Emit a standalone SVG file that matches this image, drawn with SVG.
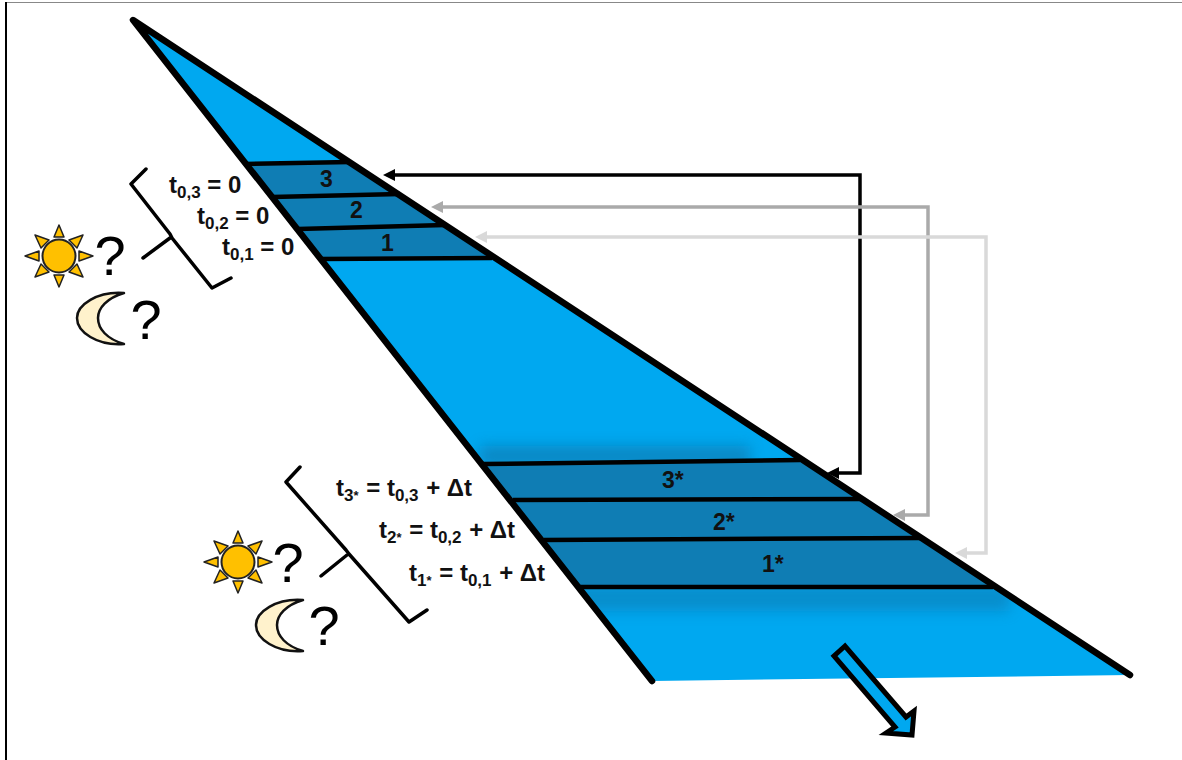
<svg xmlns="http://www.w3.org/2000/svg" width="1182" height="760" viewBox="0 0 1182 760">
<style>
.edge{fill:none;stroke:#000;stroke-width:6.5;stroke-linecap:round;stroke-linejoin:round}
.sep{fill:none;stroke:#000;stroke-width:4.5}
.brace{fill:none;stroke:#000;stroke-width:3.5;stroke-linejoin:round;stroke-linecap:round}
.lbl{font-family:"Liberation Sans",Arial,sans-serif;font-weight:700;font-size:24px;fill:#111}
.num{font-family:"Liberation Sans",Arial,sans-serif;font-weight:700;font-size:23px;fill:#111}
.q{font-family:"Liberation Sans",Arial,sans-serif;font-size:56px;fill:#000;text-anchor:middle}
.sub{font-size:17px}
.sub2{font-size:13px}
.ray{fill:#ffc000;stroke:#222;stroke-width:1.5;stroke-linejoin:round}
.disc{fill:#ffc000;stroke:#222;stroke-width:2}
.moon{fill:#fff2cc;stroke:#111;stroke-width:2.5;stroke-linejoin:round}
.conn{fill:none;stroke-width:3.5}
</style>
<defs>
<filter id="blur" x="-10%" y="-100%" width="120%" height="300%"><feGaussianBlur stdDeviation="7"/></filter>
<clipPath id="wedge"><polygon points="133,20 1130,675 652,681"/></clipPath>
<g id="sun">
<polygon class="ray" points="0,-31 -5,-19 5,-19"/>
<polygon class="ray" points="0,31 -5,19 5,19"/>
<polygon class="ray" points="-34,0 -20,-5 -20,5"/>
<polygon class="ray" points="34,0 20,-5 20,5"/>
<polygon class="ray" points="-24,-21 -10,-16 -18,-8"/>
<polygon class="ray" points="24,-21 10,-16 18,-8"/>
<polygon class="ray" points="-24,21 -10,16 -18,8"/>
<polygon class="ray" points="24,21 10,16 18,8"/>
<circle class="disc" r="16.5"/>
</g>
<path id="moonShape" class="moon" d="M47,-24 C20,-26 0,-12 0,1 C0,15 20,29 47,27 C30,22 21,12 21,1 C21,-9 30,-19 47,-24 Z"/>
</defs>
<g id="frame">
<line x1="6" y1="2.5" x2="1182" y2="2.5" stroke="#888" stroke-width="1"/>
<line x1="6" y1="2" x2="6" y2="760" stroke="#000" stroke-width="2"/>
</g>
<g id="wedge-body">
<polygon points="133,20 1130,675 652,681" fill="#00a8f0"/>
<g clip-path="url(#wedge)">
<rect x="480" y="446" width="270" height="20" fill="#0f7db4" opacity="0.75" filter="url(#blur)"/>
<rect x="570" y="585" width="440" height="26" fill="#0f7db4" opacity="0.6" filter="url(#blur)"/>
<polygon points="245,164 350,162 490,258 320,259" fill="#0f7db4"/>
<polygon points="483,464 800,460 996,587 580,587" fill="#0f7db4"/>
</g>
<path class="sep" d="M245,164 L350,162 M272,197 L400,194 M298,229 L445,225 M320,259 L492,258"/>
<path class="sep" d="M483,464 L800,460 M513,500 L863,499 M544,540 L920,538 M580,587 L993,587"/>
<path class="edge" d="M652,681 L133,20 L1130,675"/>
</g>
<g id="band-labels">
<text class="num" x="320" y="187">3</text>
<text class="num" x="350" y="218">2</text>
<text class="num" x="381" y="251">1</text>
<text class="num" x="662" y="488">3*</text>
<text class="num" x="713" y="530">2*</text>
<text class="num" x="762" y="572">1*</text>
</g>
<g id="connectors">
<path class="conn" stroke="#000" d="M392,175 H860 V473 H836"/>
<polygon points="383,175 395,169 395,181" fill="#000"/>
<polygon points="827,473 839,467 839,479" fill="#000"/>
<path class="conn" stroke="#aaa" d="M440,207 H928 V515 H902"/>
<polygon points="431,207 443,201 443,213" fill="#aaa"/>
<polygon points="893,515 905,509 905,521" fill="#aaa"/>
<path class="conn" stroke="#d9d9d9" d="M484,237 H986 V553 H964"/>
<polygon points="475,237 487,231 487,243" fill="#d9d9d9"/>
<polygon points="955,553 967,547 967,559" fill="#d9d9d9"/>
</g>
<g id="flow-arrow">
<polygon points="845,646 834,656 895,727 886,733 912,735 914,711 906,717" fill="#00a8f0" stroke="#000" stroke-width="5"/>
</g>
<g id="brace-top">
<path class="brace" d="M146,169 L131,184 L170,234 L172,238 L212,288 L231,278 M143,258 L170,238"/>
</g>
<g id="brace-bottom">
<path class="brace" d="M300,467 L286,482 L346,550 L349,554 L409,622 L427,610 M321,576 L347,555"/>
</g>
<g id="times-top">
<text class="lbl" x="169" y="193">t<tspan class="sub" dy="5">0,3</tspan><tspan dy="-5"> = 0</tspan></text>
<text class="lbl" x="197" y="224">t<tspan class="sub" dy="5">0,2</tspan><tspan dy="-5"> = 0</tspan></text>
<text class="lbl" x="222" y="255">t<tspan class="sub" dy="5">0,1</tspan><tspan dy="-5"> = 0</tspan></text>
</g>
<g id="times-bottom">
<text class="lbl" x="336" y="496">t<tspan class="sub" dy="5">3</tspan><tspan class="sub2" dy="-1">*</tspan><tspan dy="-4" dx="1"> = t</tspan><tspan class="sub" dy="5">0,3</tspan><tspan dy="-5" dx="1"> + Δt</tspan></text>
<text class="lbl" x="379" y="538">t<tspan class="sub" dy="5">2</tspan><tspan class="sub2" dy="-1">*</tspan><tspan dy="-4" dx="1"> = t</tspan><tspan class="sub" dy="5">0,2</tspan><tspan dy="-5" dx="1"> + Δt</tspan></text>
<text class="lbl" x="409" y="581">t<tspan class="sub" dy="5">1</tspan><tspan class="sub2" dy="-1">*</tspan><tspan dy="-4" dx="1"> = t</tspan><tspan class="sub" dy="5">0,1</tspan><tspan dy="-5" dx="1"> + Δt</tspan></text>
</g>
<g id="sun-top"><use href="#sun" x="59" y="256"/><text class="q" x="110" y="275">?</text></g>
<g id="moon-top"><use href="#moonShape" x="77" y="317"/><text class="q" x="146" y="339">?</text></g>
<g id="sun-bottom"><use href="#sun" x="238" y="562"/><text class="q" x="288" y="582">?</text></g>
<g id="moon-bottom"><use href="#moonShape" x="256" y="624"/><text class="q" x="324" y="645">?</text></g>
</svg>
